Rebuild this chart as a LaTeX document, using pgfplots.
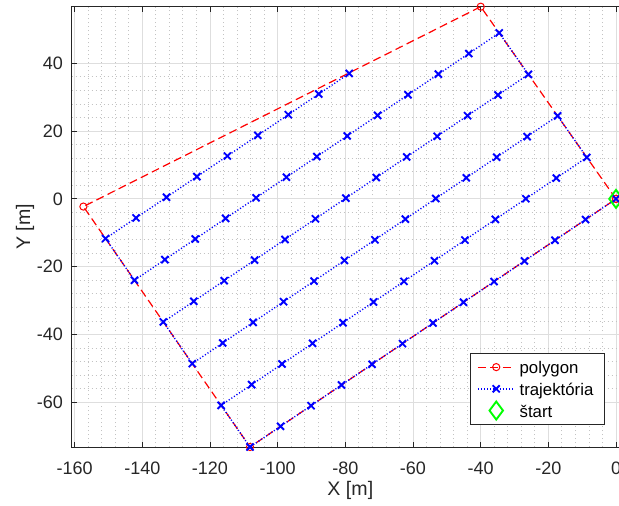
\documentclass[border=0pt]{standalone}
\usepackage{fontspec}
\setmainfont{Liberation Sans}
\usepackage{pgfplots}
\pgfplotsset{compat=1.18}
\definecolor{axgray}{RGB}{38,38,38}
\definecolor{gridmaj}{RGB}{222,222,222}
\definecolor{gridmin}{RGB}{195,195,195}
\definecolor{mred}{RGB}{255,0,0}
\definecolor{mblue}{RGB}{0,0,255}
\definecolor{mgreen}{RGB}{0,255,0}
\begin{document}
\begin{tikzpicture}
\begin{axis}[
  x=1.692pt, y=1.695pt,
  xmin=-160.86, xmax=3.85, ymin=-73.2, ymax=56.7,
  clip=false,
  axis line style={axgray, line width=0.45pt},
  xtick={-160,-140,-120,-100,-80,-60,-40,-20,0},
  ytick={-60,-40,-20,0,20,40},
  minor tick num=4,
  tick align=inside,
  major tick length=2.6pt,
  minor tick length=0pt,
  tick style={axgray, line width=0.45pt},
  grid=both,
  major grid style={gridmaj, line width=0.45pt},
  minor grid style={gridmin, line width=0.4pt, dash pattern=on 0.45pt off 1.55pt},
  /pgf/number format/assume math mode=true,
  ticklabel style={font=\fontsize{9}{10}\selectfont, text=axgray},
  xticklabel style={yshift=-3.7pt},
  yticklabel style={xshift=-0.9pt},
  xlabel={X [m]}, ylabel={Y [m]},
  label style={font=\fontsize{9.8}{11}\selectfont, text=axgray},
  xlabel style={at={(axis description cs:0.5,-0.099)}, anchor=center},
  ylabel style={at={(axis description cs:-0.0835,0.5)}, anchor=center},
  legend image code/.code={\draw[mark repeat=2,mark phase=2,#1] plot coordinates {(0pt,0pt) (9.15pt,0pt) (18.3pt,0pt)};},
  legend style={
    at={(axis description cs:0.9573,0.05)}, anchor=south east,
    draw=axgray, line width=0.45pt, fill=white,
    font=\fontsize{8.4}{10}\selectfont,
    inner xsep=3.5pt, inner ysep=1.57pt,
    row sep=0pt,
    cells={anchor=west},
    nodes={inner xsep=2.2pt, inner ysep=0.5pt, text height=8.23pt, text depth=1.63pt},
  },
]
\addplot[color=mred, line width=0.6pt, dash pattern=on 4pt off 2.2pt,
  mark=o, mark size=1.8pt, mark options={solid, line width=0.5pt}]
  coordinates {(0,0) (-39.98,56.7) (-157.4,-2.27) (-108.16,-73.2) (0,0)};
\addlegendentry{polygon}
\addplot[color=mblue, line width=0.7pt, dash pattern=on 0.55pt off 1.0pt,
  mark=x, mark size=2.5pt, mark options={solid, line width=0.95pt}]
  coordinates {
  (0,0) (-9.01,-6.10) (-18.03,-12.20) (-27.04,-18.30) (-36.05,-24.40) (-45.07,-30.50)
  (-54.08,-36.60) (-63.09,-42.70) (-72.10,-48.80) (-81.12,-54.90) (-90.13,-61.00)
  (-99.14,-67.10) (-108.16,-73.20)
  (-116.70,-60.90) (-107.69,-54.81) (-98.69,-48.71) (-89.68,-42.62) (-80.68,-36.52)
  (-71.67,-30.43) (-62.66,-24.33) (-53.66,-18.24) (-44.65,-12.14) (-35.65,-6.05)
  (-26.64,0.05) (-17.63,6.15) (-8.63,12.24)
  (-17.26,24.48) (-26.26,18.39) (-35.26,12.30) (-44.25,6.21) (-53.25,0.12)
  (-62.25,-5.97) (-71.25,-12.06) (-80.25,-18.15) (-89.24,-24.24) (-98.24,-30.33)
  (-107.24,-36.42) (-116.24,-42.51) (-125.24,-48.60)
  (-133.78,-36.30) (-124.79,-30.22) (-115.80,-24.13) (-106.81,-18.05) (-97.82,-11.96)
  (-88.83,-5.88) (-79.83,0.21) (-70.84,6.30) (-61.85,12.38) (-52.86,18.47)
  (-43.87,24.55) (-34.88,30.64) (-25.89,36.72)
  (-34.52,48.96) (-43.50,42.88) (-52.49,36.80) (-61.47,30.72) (-70.45,24.64)
  (-79.44,18.56) (-88.42,12.48) (-97.40,6.40) (-106.38,0.32) (-115.37,-5.76)
  (-124.35,-11.84) (-133.33,-17.92) (-142.32,-24.00)
  (-150.85,-11.70) (-141.85,-5.61) (-132.85,0.48) (-123.85,6.57) (-114.85,12.66)
  (-105.85,18.75) (-96.85,24.84) (-87.85,30.93) (-78.85,37.02)
  };
\addlegendentry{trajektória}
\addplot[only marks, color=mgreen, mark=diamond, mark size=4.5pt,
  mark options={solid, line width=0.95pt}]
  coordinates {(0,0)};
\addlegendentry{štart}
\coordinate (bbsw) at (axis cs:-160.86,-73.2);
\coordinate (bbne) at (axis cs:0.89,56.7);
\end{axis}
\pgfresetboundingbox
\path[use as bounding box] ([xshift=-35.85pt,yshift=-29.35pt]bbsw) rectangle ([yshift=3.35pt]bbne);
\end{tikzpicture}
\end{document}
